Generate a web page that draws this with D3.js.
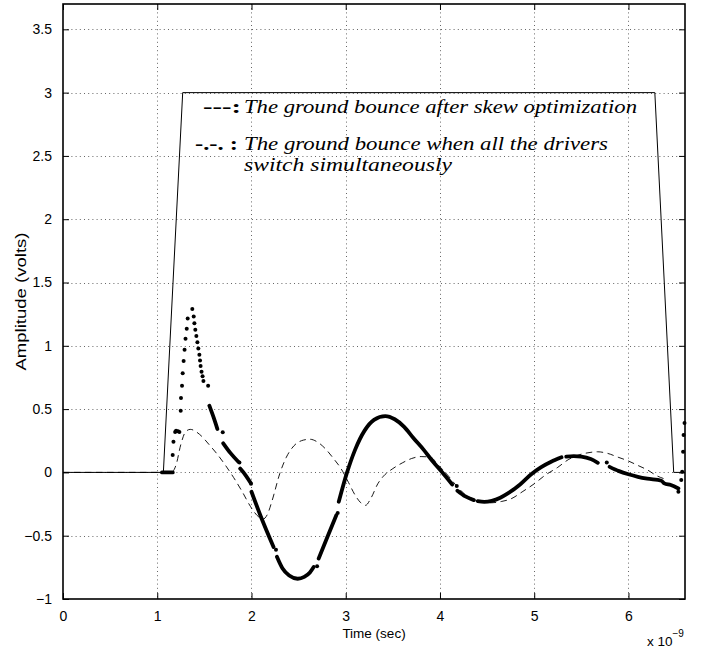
<!DOCTYPE html>
<html>
<head>
<meta charset="utf-8">
<script src="https://cdn.jsdelivr.net/npm/d3@7"></script>
<style>
  body { margin: 0; background: #fff; }
  svg { display: block; }
</style>
</head>
<body>
<div id="chart"></div>
<script>
// axis ticks
const xTicks = [0, 1, 2, 3, 4, 5, 6];
const yTicks = [-1, -0.5, 0, 0.5, 1, 1.5, 2, 2.5, 3, 3.5];

// input pulse (solid)
const pulseT = [0, 1.065, 1.27, 6.28, 6.48, 6.6];
const pulseV = [0, 0, 3, 3, 0, 0];

// ground bounce after skew optimization (thin dashed)
const skewT = [0, 1.15, 1.2, 1.25, 1.3, 1.35, 1.45, 1.55, 1.63, 1.72, 1.81, 1.9, 1.99, 2.06, 2.12, 2.17, 2.22, 2.3, 2.37, 2.45, 2.55, 2.62, 2.7, 2.78, 2.87, 2.95, 3.03, 3.1, 3.16, 3.21, 3.27, 3.34, 3.4, 3.5, 3.6, 3.7, 3.8, 3.9, 3.98, 4.08, 4.18, 4.26, 4.35, 4.45, 4.55, 4.65, 4.75, 4.88, 5.0, 5.12, 5.25, 5.36, 5.46, 5.57, 5.67, 5.78, 5.89, 6.0, 6.1, 6.2, 6.31, 6.4];
const skewV = [0, 0, 0.06, 0.22, 0.32, 0.34, 0.3, 0.22, 0.15, 0.06, -0.04, -0.15, -0.27, -0.34, -0.37, -0.33, -0.22, -0.01, 0.12, 0.21, 0.255, 0.262, 0.24, 0.19, 0.11, 0.03, -0.08, -0.18, -0.24, -0.26, -0.2, -0.09, -0.03, 0.03, 0.075, 0.11, 0.125, 0.12, 0.06, -0.02, -0.11, -0.17, -0.21, -0.235, -0.24, -0.23, -0.21, -0.15, -0.09, -0.02, 0.04, 0.1, 0.135, 0.155, 0.163, 0.15, 0.12, 0.09, 0.055, 0.02, -0.03, -0.055];

// ground bounce when all drivers switch together (thick, sampled points)
// dense runs, null = gap between runs
const simT = [1.05, 1.165, null,
  1.553, 1.6, 1.638, null,
  1.70, 1.78, 1.86, null,
  1.88, 1.94, 1.99, null,
  2.0, 2.1, 2.234, null,
  2.27, 2.33, 2.4, 2.49, 2.56, 2.62, 2.66, null,
  2.713, 2.8, 2.9, null,
  2.926, 3.01, 3.1, 3.2, 3.3, 3.42, 3.52, 3.62, 3.72, 3.83, 3.92, 4.01, 4.08, 4.13, null,
  4.185, 4.27, 4.36, null,
  4.4, 4.47, 4.55, 4.64, 4.72, 4.85, 4.965, 5.07, 5.18, 5.29, null,
  5.34, 5.42, 5.5, 5.6, 5.675, null,
  5.8, 5.9, 6.0, 6.1, 6.2, 6.35, 6.38, 6.45, 6.53];
const simV = [0, 0, null,
  0.527, 0.43, 0.343, null,
  0.23, 0.15, 0.084, null,
  0.03, -0.025, -0.082, null,
  -0.153, -0.35, -0.589, null,
  -0.667, -0.76, -0.815, -0.84, -0.825, -0.79, -0.747, null,
  -0.68, -0.52, -0.338, null,
  -0.232, -0.01, 0.18, 0.33, 0.415, 0.445, 0.42, 0.36, 0.27, 0.176, 0.09, 0.013, -0.05, -0.095, null,
  -0.145, -0.19, -0.219, null,
  -0.227, -0.233, -0.225, -0.2, -0.166, -0.095, -0.016, 0.04, 0.084, 0.119, null,
  0.124, 0.128, 0.124, 0.105, 0.076, null,
  0.044, 0.01, -0.015, -0.035, -0.05, -0.066, -0.087, -0.1, -0.127];
// isolated samples
const simDotT = [1.164, 1.172, 1.19, 1.2, 1.22, 1.235, 1.249, 1.252, 1.263, 1.27, 1.28, 1.29, 1.30, 1.313, 1.323, 1.372, 1.387, 1.394, 1.404, 1.415, 1.426, 1.436, 1.447, 1.454, 1.46, 1.47, 1.481, 1.49, 1.54, 1.695, 1.872, 1.995, 2.26, 2.696, 2.915, 4.178, 5.77, 6.53, 6.56, 6.57, 6.58, 6.585, 6.595];
const simDotV = [0.137, 0.242, 0.32, 0.33, 0.325, 0.32, 0.487, 0.587, 0.685, 0.783, 0.88, 0.968, 1.055, 1.134, 1.215, 1.29, 1.231, 1.179, 1.126, 1.078, 1.028, 0.978, 0.93, 0.883, 0.841, 0.796, 0.76, 0.722, 0.685, 0.318, 0.078, -0.09, -0.61, -0.741, -0.32, -0.108, 0.079, -0.153, -0.06, 0.005, 0.163, 0.295, 0.39];

const legendSymbols = ["---:", "-.-. :"];
const legendLines = ["The ground bounce after skew optimization", "The ground bounce when all the drivers", "switch simultaneously"];

const width = 709, height = 651;
const plot = { left: 63, top: 4, right: 685, bottom: 599 };
const sans = "'Liberation Sans', Arial, Helvetica, sans-serif";
const serif = "'Liberation Serif', 'Times New Roman', Times, serif";

const svg = d3.select("#chart").append("svg")
  .attr("width", width)
  .attr("height", height);

const x = d3.scaleLinear().domain([0, 6.6]).range([plot.left, plot.right]);
const y = d3.scaleLinear().domain([-1, 3.7]).range([plot.bottom, plot.top]);

drawGrid();
drawSeries();
drawAxes();
drawLegend();

function drawGrid() {
  const g = svg.append("g").attr("stroke", "#666").attr("stroke-width", 1).attr("stroke-dasharray", "1,3.2");
  g.selectAll("line.gx")
    .data(xTicks.filter(d => d > 0))
    .enter().append("line")
    .attr("x1", d => Math.round(x(d)) + 0.5).attr("x2", d => Math.round(x(d)) + 0.5)
    .attr("y1", plot.top).attr("y2", plot.bottom);
  g.selectAll("line.gy")
    .data(yTicks.filter(d => d > -1))
    .enter().append("line")
    .attr("y1", d => Math.round(y(d)) + 0.5).attr("y2", d => Math.round(y(d)) + 0.5)
    .attr("x1", plot.left).attr("x2", plot.right);
}

function drawSeries() {
  const pulse = pulseT.map((t, i) => [t, pulseV[i]]);
  const skew = skewT.map((t, i) => [t, skewV[i]]);
  const sim = simT.map((t, i) => [t, simV[i]]);
  const simDots = simDotT.map((t, i) => [t, simDotV[i]]);

  const line = d3.line().x(d => x(d[0])).y(d => y(d[1]));
  const smooth = d3.line()
    .defined(d => d[0] !== null)
    .x(d => x(d[0])).y(d => y(d[1]))
    .curve(d3.curveMonotoneX);

  svg.append("path")
    .attr("d", line(pulse))
    .attr("fill", "none").attr("stroke", "#000").attr("stroke-width", 1);

  svg.append("path")
    .attr("d", smooth(skew))
    .attr("fill", "none").attr("stroke", "#000").attr("stroke-width", 0.9)
    .attr("stroke-dasharray", "6.5,4.5");

  svg.append("path")
    .attr("d", smooth(sim))
    .attr("fill", "none").attr("stroke", "#000").attr("stroke-width", 3.8)
    .attr("stroke-linecap", "round").attr("stroke-linejoin", "round");

  svg.selectAll("circle.sim")
    .data(simDots)
    .enter().append("circle")
    .attr("cx", d => x(d[0])).attr("cy", d => y(d[1]))
    .attr("r", 2).attr("fill", "#000");
}

function drawAxes() {
  const fmt = d3.format("~g");
  const tick = 6;

  const bottom = svg.append("g")
    .attr("transform", `translate(0, ${plot.bottom})`)
    .call(d3.axisBottom(x).tickValues(xTicks).tickSize(-tick).tickPadding(12).tickFormat(fmt));
  const top = svg.append("g")
    .attr("transform", `translate(0, ${plot.top})`)
    .call(d3.axisTop(x).tickValues(xTicks).tickSize(-tick).tickFormat(""));
  const left = svg.append("g")
    .attr("transform", `translate(${plot.left}, 0)`)
    .call(d3.axisLeft(y).tickValues(yTicks).tickSize(-tick).tickPadding(11).tickFormat(fmt));
  const right = svg.append("g")
    .attr("transform", `translate(${plot.right}, 0)`)
    .call(d3.axisRight(y).tickValues(yTicks).tickSize(-tick).tickFormat(""));

  [bottom, top, left, right].forEach(g => {
    g.select(".domain").remove();
    g.selectAll("line").attr("stroke", "#000");
    g.selectAll("text").attr("font-family", sans).attr("font-size", 14).attr("fill", "#000");
  });

  svg.append("rect")
    .attr("x", plot.left).attr("y", plot.top)
    .attr("width", plot.right - plot.left).attr("height", plot.bottom - plot.top)
    .attr("fill", "none").attr("stroke", "#000").attr("stroke-width", 1.6);

  svg.append("text")
    .attr("x", (plot.left + plot.right) / 2).attr("y", 638)
    .attr("text-anchor", "middle")
    .attr("font-family", sans).attr("font-size", 13.5)
    .text("Time (sec)");

  svg.append("text")
    .attr("transform", `translate(26, ${(plot.top + plot.bottom) / 2}) rotate(-90)`)
    .attr("text-anchor", "middle")
    .attr("font-family", sans).attr("font-size", 14.5)
    .attr("textLength", 138).attr("lengthAdjust", "spacingAndGlyphs")
    .text("Amplitude (volts)");

  const exp = svg.append("text")
    .attr("x", 647).attr("y", 646)
    .attr("font-family", sans).attr("font-size", 13.5);
  exp.append("tspan").text("x 10");
  exp.append("tspan").attr("dy", -9).attr("font-size", 10).text("\u22129");
}

function drawLegend() {
  const g = svg.append("g");
  const rows = [
    { sym: legendSymbols[0], symLen: 38, text: legendLines[0], y: 113, sx: 203, len: 393 },
    { sym: legendSymbols[1], symLen: 43, text: legendLines[1], y: 150, sx: 195, len: 364 },
    { sym: "", text: legendLines[2], y: 171, sx: 195, len: 208 }
  ];
  rows.forEach(r => {
    if (r.sym) {
      g.append("text")
        .attr("x", r.sx).attr("y", r.y)
        .attr("font-family", serif).attr("font-weight", "bold").attr("font-size", 19)
        .attr("textLength", r.symLen).attr("lengthAdjust", "spacingAndGlyphs")
        .text(r.sym);
    }
    g.append("text")
      .attr("x", 244).attr("y", r.y)
      .attr("font-family", serif).attr("font-style", "italic").attr("font-size", 19)
      .attr("textLength", r.len).attr("lengthAdjust", "spacingAndGlyphs")
      .text(r.text);
  });
}
</script>
</body>
</html>
